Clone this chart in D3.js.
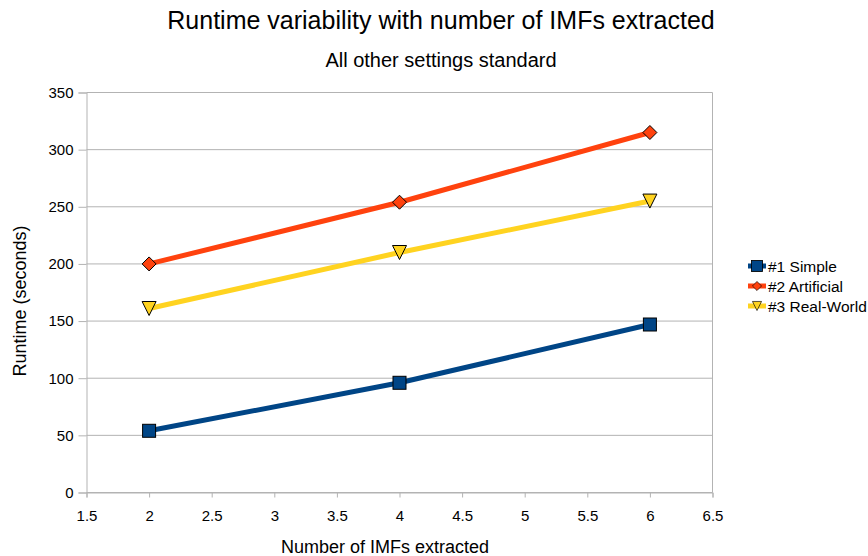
<!DOCTYPE html>
<html><head><meta charset="utf-8">
<script src="https://cdn.jsdelivr.net/npm/d3@7"></script>
<style>body{margin:0;background:#fff;font-family:"Liberation Sans",Arial,sans-serif;}</style>
</head><body><svg id="c" width="868" height="556"></svg>
<script>
const xValues = [2, 4, 6];
const seriesNames = ["#1 Simple", "#2 Artificial", "#3 Real-World"];
const simple = [54, 96, 147];
const artificial = [200, 254, 315];
const realWorld = [161, 210, 255];
const xTicks = [1.5, 2, 2.5, 3, 3.5, 4, 4.5, 5, 5.5, 6, 6.5];
const yTicks = [0, 50, 100, 150, 200, 250, 300, 350];
const colors = ["#004586", "#ff420e", "#ffd320"];
const markers = ["square", "diamond", "triangle"];

const svg = d3.select("#c");
const x = d3.scaleLinear().domain([1.5, 6.5]).range([86.5, 712.5]);
const y = d3.scaleLinear().domain([0, 350]).range([492.5, 92.5]);
const grid = "#b3b3b3";

svg.append("g").selectAll("line").data(yTicks).join("line")
  .attr("x1", x(1.5)).attr("x2", x(6.5)).attr("y1", d => y(d)).attr("y2", d => y(d))
  .attr("stroke", grid).attr("stroke-width", 1);
svg.append("line").attr("x1", x(6.5)).attr("x2", x(6.5)).attr("y1", y(0)).attr("y2", y(350)).attr("stroke", grid);

const yAxis = svg.append("g").attr("transform", `translate(${x(1.5)},0)`)
  .call(d3.axisLeft(y).tickValues(yTicks).tickSize(8).tickPadding(5).tickFormat(d3.format("d")));
const xAxis = svg.append("g").attr("transform", `translate(0,${y(0)})`)
  .call(d3.axisBottom(x).tickValues(xTicks).tickSize(5).tickPadding(13).tickFormat(d => String(d)));
[yAxis, xAxis].forEach(a => {
  a.select(".domain").attr("stroke", grid);
  a.selectAll(".tick line").attr("stroke", grid);
  a.selectAll("text").attr("fill", "#000").style("font-size", "15px").style("font-family", "'Liberation Sans',Arial,sans-serif");
});

const data = [simple, artificial, realWorld];
const line = d3.line().x((d, i) => x(xValues[i])).y(d => y(d));

function marker(g, type, cx, cy, color) {
  if (type === "square") {
    g.append("rect").attr("x", cx - 6.5).attr("y", cy - 6.5).attr("width", 13).attr("height", 13)
      .attr("fill", color).attr("stroke", "#000").attr("stroke-width", 1);
  } else if (type === "diamond") {
    g.append("path").attr("d", `M${cx},${cy-7}L${cx+7},${cy}L${cx},${cy+7}L${cx-7},${cy}Z`)
      .attr("fill", color).attr("stroke", "#000").attr("stroke-width", 1);
  } else {
    g.append("path").attr("d", `M${cx-7},${cy-7}L${cx+7},${cy-7}L${cx},${cy+7}Z`)
      .attr("fill", color).attr("stroke", "#000").attr("stroke-width", 1);
  }
}

data.forEach((vals, s) => {
  const g = svg.append("g");
  g.append("path").datum(vals).attr("d", line).attr("fill", "none")
    .attr("stroke", colors[s]).attr("stroke-width", 5);
  vals.forEach((v, i) => marker(g, markers[s], x(xValues[i]), y(v), colors[s]));
});

seriesNames.forEach((n, s) => {
  const ly = 266 + s * 20;
  const g = svg.append("g");
  g.append("line").attr("x1", 748).attr("x2", 766).attr("y1", ly).attr("y2", ly)
    .attr("stroke", colors[s]).attr("stroke-width", 5);
  const sm = s === 0 ? 0.85 : 0.65;
  const mg = g.append("g").attr("transform", `translate(${757},${ly}) scale(${sm}) translate(${-757},${-ly})`);
  marker(mg, markers[s], 757, ly, colors[s]);
  g.append("text").attr("x", 768).attr("y", ly + 5.5).text(n)
    .style("font-size", "15.5px").attr("fill", "#000");
});

svg.append("text").attr("x", 441).attr("y", 29).attr("text-anchor", "middle")
  .style("font-size", "25px").attr("fill", "#000").text("Runtime variability with number of IMFs extracted");
svg.append("text").attr("x", 441).attr("y", 67).attr("text-anchor", "middle")
  .style("font-size", "20px").attr("fill", "#000").text("All other settings standard");
svg.append("text").attr("x", 385).attr("y", 553).attr("text-anchor", "middle")
  .style("font-size", "18px").attr("fill", "#000").text("Number of IMFs extracted");
svg.append("text").attr("transform", "translate(26,301) rotate(-90)").attr("text-anchor", "middle")
  .style("font-size", "18px").attr("fill", "#000").text("Runtime (seconds)");
</script></body></html>
